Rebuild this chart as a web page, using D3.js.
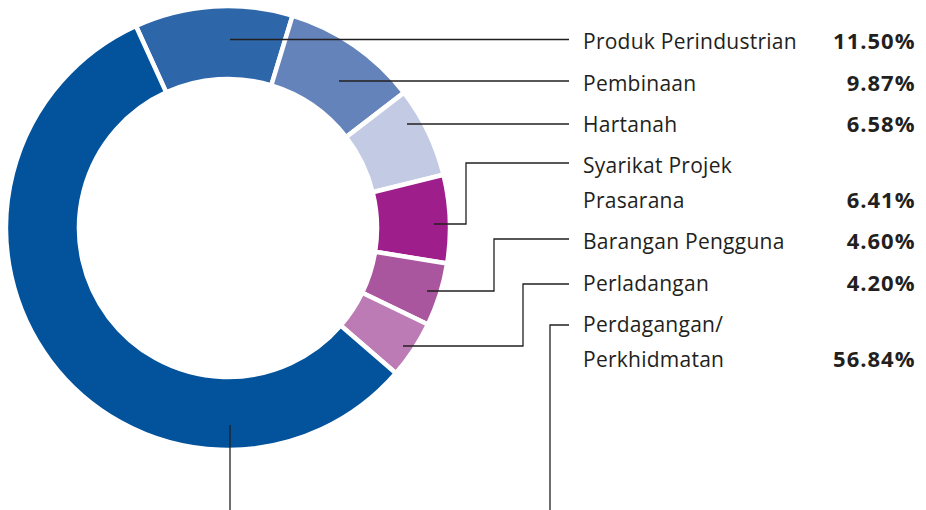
<!DOCTYPE html>
<html>
<head>
<meta charset="utf-8">
<script src="https://cdn.jsdelivr.net/npm/d3@7/dist/d3.min.js"></script>
<style>
  html, body { margin: 0; padding: 0; background: #ffffff; }
  svg { display: block; }
  text { font-family: "Open Sans", "Noto Sans", sans-serif; fill: #231f20; }
</style>
</head>
<body>
<svg id="chart" width="926" height="510"></svg>
<script>
// ---- data ----
const categories = [
  "Produk Perindustrian",
  "Pembinaan",
  "Hartanah",
  "Syarikat Projek Prasarana",
  "Barangan Pengguna",
  "Perladangan",
  "Perdagangan/ Perkhidmatan"
];
const labelLines = [
  ["Produk Perindustrian"],
  ["Pembinaan"],
  ["Hartanah"],
  ["Syarikat Projek", "Prasarana"],
  ["Barangan Pengguna"],
  ["Perladangan"],
  ["Perdagangan/", "Perkhidmatan"]
];
const values = [11.50, 9.87, 6.58, 6.41, 4.60, 4.20, 56.84];
const valueLabels = ["11.50%", "9.87%", "6.58%", "6.41%", "4.60%", "4.20%", "56.84%"];
const colors = ["#2e67a9", "#6583bb", "#c3cbe4", "#9e1f8b", "#a9569f", "#bc7bb4", "#02529c"];

// ---- layout ----
const cx = 228, cy = 228, rOuter = 222, rInner = 149;
const startDeg = -24.5;
const labelX = 583, valueX = 915.5;
const baselines = [[48.5], [90.5], [131.5], [173, 208], [248.5], [290.5], [332, 367]];
// leader polylines (annotation layout)
const leaders = [
  [[230, 39.5], [569, 39.5]],
  [[339, 81], [569, 81]],
  [[407, 124], [569, 124]],
  [[434, 224], [466, 224], [466, 163], [569, 163]],
  [[427, 291], [494, 291], [494, 239], [569, 239]],
  [[403, 346], [523, 346], [523, 284], [569, 284]],
  [[230, 425], [230, 520]],
  [[550, 520], [550, 325], [569, 325]]
];

const svg = d3.select("#chart");
const g = svg.append("g").attr("transform", `translate(${cx},${cy})`);

const pie = d3.pie().sort(null).value(d => d)
  .startAngle(startDeg * Math.PI / 180)
  .endAngle((startDeg + 360) * Math.PI / 180);
const arc = d3.arc().innerRadius(rInner).outerRadius(rOuter);

g.selectAll("path.slice")
  .data(pie(values))
  .join("path")
  .attr("class", "slice")
  .attr("d", arc)
  .attr("fill", (d, i) => colors[i])
  .attr("stroke", "#ffffff")
  .attr("stroke-width", 4.5)
  .attr("stroke-linejoin", "miter");

const line = d3.line();
svg.selectAll("path.leader")
  .data(leaders)
  .join("path")
  .attr("class", "leader")
  .attr("d", d => line(d))
  .attr("fill", "none")
  .attr("stroke", "#231f20")
  .attr("stroke-width", 1.3);

// labels
categories.forEach((c, i) => {
  labelLines[i].forEach((t, j) => {
    svg.append("text")
      .attr("x", labelX)
      .attr("y", baselines[i][j])
      .attr("font-size", 21)
      .attr("letter-spacing", 0.25)
      .text(t);
  });
  const bl = baselines[i][baselines[i].length - 1];
  svg.append("text")
    .attr("x", valueX)
    .attr("y", bl)
    .attr("text-anchor", "end")
    .attr("font-size", 22)
    .attr("letter-spacing", 1)
    .attr("font-weight", 700)
    .text(valueLabels[i]);
});
</script>
</body>
</html>
